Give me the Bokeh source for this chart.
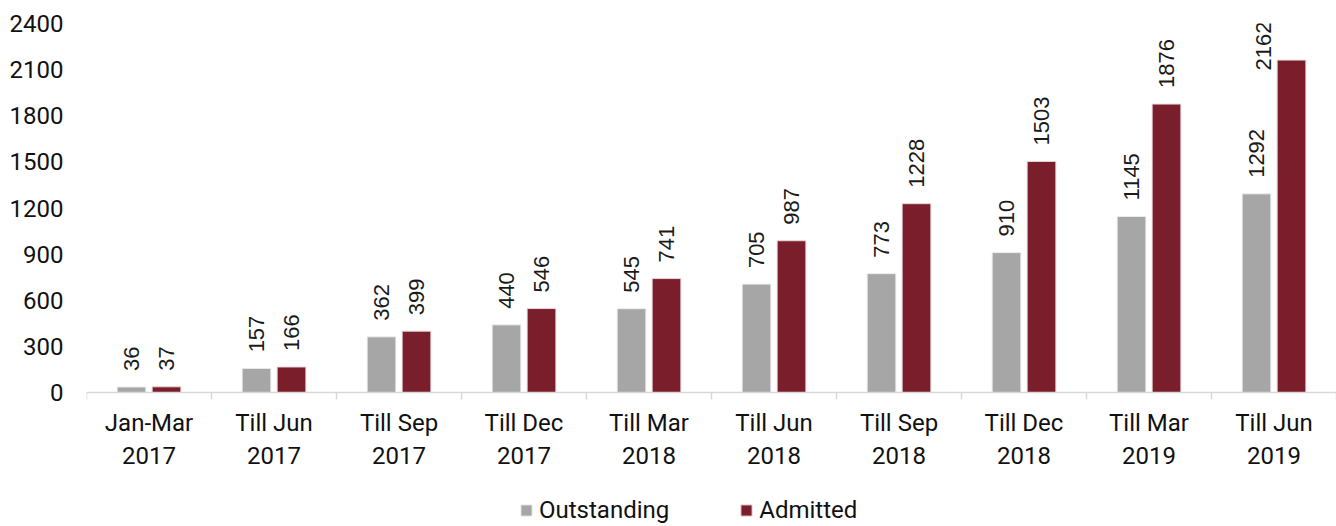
import math
from bokeh.plotting import figure
from bokeh.models import (ColumnDataSource, Range1d, FixedTicker, Legend, LegendItem)
from bokeh.core.properties import value
from bokeh.embed import file_html
from bokeh.resources import INLINE

categories = ["Jan-Mar\n2017", "Till Jun\n2017", "Till Sep\n2017", "Till Dec\n2017", "Till Mar\n2018",
              "Till Jun\n2018", "Till Sep\n2018", "Till Dec\n2018", "Till Mar\n2019", "Till Jun\n2019"]
outstanding = [36, 157, 362, 440, 545, 705, 773, 910, 1145, 1292]
admitted = [37, 166, 399, 546, 741, 987, 1228, 1503, 1876, 2162]
y_ticks = [0, 300, 600, 900, 1200, 1500, 1800, 2100, 2400]

GRAY = "#a6a6a6"
MAROON = "#7b1e2b"
AXIS_FONT = "Roboto"
LABEL_FONT = "Liberation Sans"

W, H = 1336, 526
top_px, left_px = 23, 86
bottom_px = 134          # space below the value axis (category labels + legend)
n = len(categories)
pos = list(range(1, n + 1))
frame_w = W - left_px
plot_h = H - top_px - bottom_px          # height of the 0..2400 band
cat_px = frame_w / n
px_per_unit = plot_h / y_ticks[-1]
y_start = -bottom_px / px_per_unit

p = figure(width=W, height=H, output_backend="svg", toolbar_location=None,
           x_range=Range1d(0.5, n + 0.5), y_range=Range1d(y_start, y_ticks[-1]),
           min_border_left=left_px, min_border_right=0, min_border_top=top_px, min_border_bottom=0)
p.outline_line_color = None
p.xgrid.visible = False
p.ygrid.visible = False
p.background_fill_color = "white"
p.border_fill_color = "white"

off = 0.14
bw = 0.23
src_o = ColumnDataSource(dict(x=[v - off for v in pos], top=outstanding))
src_a = ColumnDataSource(dict(x=[v + off for v in pos], top=admitted))
r_o = p.vbar(x="x", top="top", width=bw, bottom=0, source=src_o, fill_color=GRAY, line_color="#eeeeee", line_width=1)
r_a = p.vbar(x="x", top="top", width=bw, bottom=0, source=src_a, fill_color=MAROON, line_color="#e8d8da", line_width=1)

# data labels (rotated); a label that would not fit above its bar is moved beside it
gap_px = 16
def label_len(v):
    return len(str(v)) * 12.5
def fits(v):
    return v * px_per_unit + gap_px + label_len(v) <= plot_h

lx, ly, lt = [], [], []
for xs, vals in (([v - off for v in pos], outstanding), ([v + off for v in pos], admitted)):
    for i, (x, v) in enumerate(zip(xs, vals)):
        lt.append(str(v))
        if fits(v):
            lx.append(x)
            ly.append(v + gap_px / px_per_unit)
        else:
            lx.append(pos[i] - 11 / cat_px)
            ly.append(y_ticks[-1] - (label_len(v) - 3) / px_per_unit)

p.text(x="x", y="y", text="t", source=ColumnDataSource(dict(x=lx, y=ly, t=lt)),
       angle=math.pi / 2, text_align="left", text_baseline="middle",
       text_font=value(LABEL_FONT), text_font_size="22px", text_color="#1a1a1a")

# x axis, drawn at value 0
xa = p.xaxis[0]
xa.fixed_location = 0
xa.ticker = FixedTicker(ticks=pos, minor_ticks=[v - 0.5 for v in pos] + [pos[-1] + 0.5])
xa.major_label_overrides = {v: c for v, c in zip(pos, categories)}
xa.major_tick_out = 0
xa.major_tick_in = 0
xa.minor_tick_out = 7
xa.minor_tick_in = 0
xa.minor_tick_line_color = "#d9d9d9"
xa.minor_tick_line_width = 1.5
xa.axis_line_color = "#d9d9d9"
xa.axis_line_width = 1.5
xa.major_label_standoff = 9
xa.major_label_text_font = AXIS_FONT
xa.major_label_text_font_size = "24px"
xa.major_label_text_color = "#111111"

# y axis
ya = p.yaxis[0]
ya.ticker = FixedTicker(ticks=y_ticks)
ya.axis_line_color = None
ya.major_tick_line_color = None
ya.minor_tick_line_color = None
ya.major_tick_out = 0
ya.major_tick_in = 0
ya.major_label_standoff = 23
ya.major_label_text_font = AXIS_FONT
ya.major_label_text_font_size = "24px"
ya.major_label_text_color = "#111111"

legend = Legend(items=[LegendItem(label="Outstanding", renderers=[r_o]),
                       LegendItem(label="Admitted", renderers=[r_a])],
                orientation="horizontal", location=(433, 2),
                glyph_width=14, glyph_height=14, label_standoff=6, spacing=70,
                label_text_font=AXIS_FONT, label_text_font_size="24px", label_text_color="#111111",
                border_line_color=None, background_fill_alpha=0, padding=0, margin=0)
p.add_layout(legend, "center")

open("out.html", "w").write(file_html(p, INLINE))
